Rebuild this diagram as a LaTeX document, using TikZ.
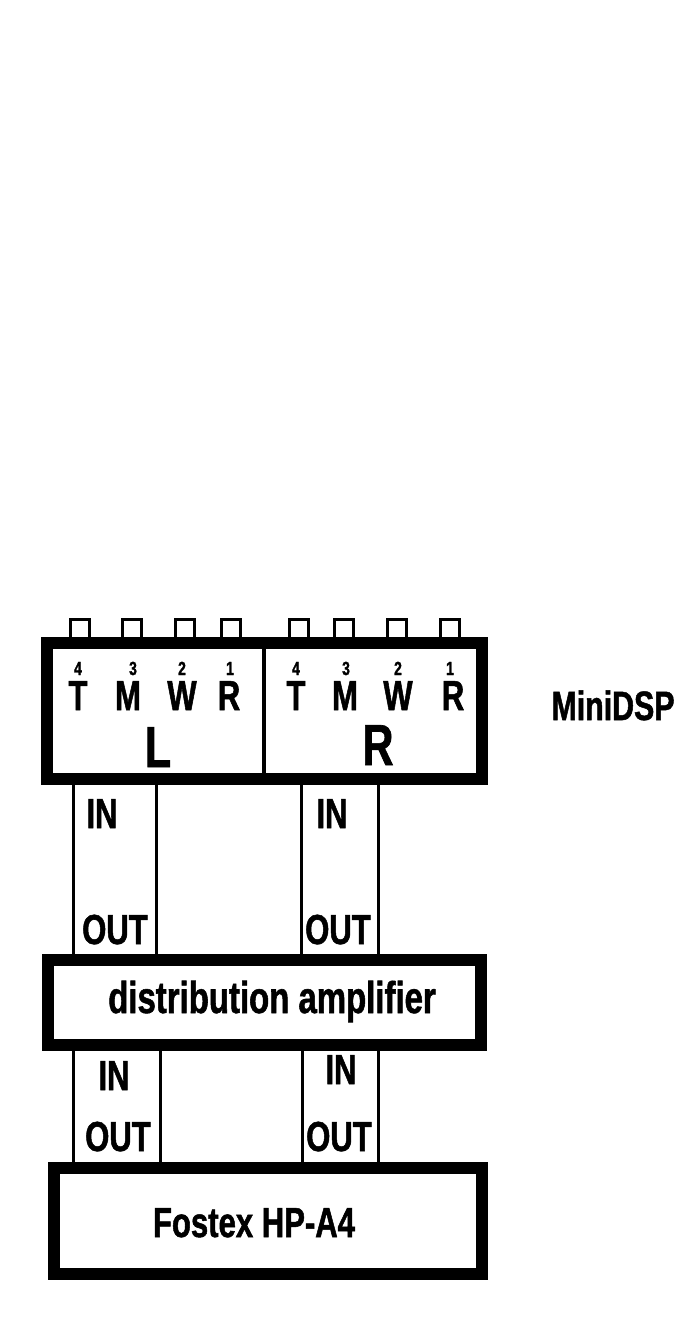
\documentclass[tikz,border=0pt]{standalone}
\usepackage{fontspec}
\usetikzlibrary{calc}
\setmainfont{Liberation Sans}[FakeStretch=0.74, BoldFeatures={FakeBold=1.2}]
\begin{document}
\begin{tikzpicture}[x=1pt,y=-1pt,
  box/.style={draw=black, fill=white, line width=12pt, rectangle, inner sep=0pt},
  wire/.style={line width=3pt},
  pin/.style={line width=3pt},
  txt/.style={inner sep=0pt, anchor=base, font=\bfseries\fontsize{42}{44}\selectfont},
  num/.style={inner sep=0pt, anchor=base, font=\bfseries\fontsize{19}{20}\selectfont},
  big/.style={inner sep=0pt, anchor=base, font=\bfseries\fontsize{58}{60}\selectfont},
]
\useasboundingbox (0,0) rectangle (677,1325);

% wire x positions
\coordinate (w1) at (73,0);
\coordinate (w2) at (156,0);
\coordinate (w3) at (301,0);
\coordinate (w4) at (378,0);
\coordinate (v1) at (73,0);
\coordinate (v2) at (160,0);
\coordinate (v3) at (302,0);
\coordinate (v4) at (378,0);

% pins on top of the MiniDSP
\foreach \px [count=\i] in {80,132,185,231,299,344,397,450}{
  \coordinate (p\i) at (\px,643);
  \draw[pin] ($(p\i)+(-9.5,0)$) rectangle ($(p\i)+(9.5,-23.5)$);
}

% boxes
\node[box, minimum width=434.5pt, minimum height=136pt] (dsp) at (264.25,711) {};
\node[box, minimum width=433.5pt, minimum height=84.5pt] (dist) at (264.25,1002.25) {};
\node[box, minimum width=428pt, minimum height=106pt] (fos) at (267.5,1220.5) {};

% divider
\coordinate (dv) at (264,0);
\draw[line width=3.5pt] (dsp.north -| dv) -- (dsp.south -| dv);

% wires
\foreach \w in {w1,w2,w3,w4}{
  \draw[wire] (dsp.south -| \w) -- (dist.north -| \w);
}
\foreach \w in {v1,v2,v3,v4}{
  \draw[wire] (dist.south -| \w) -- (fos.north -| \w);
}

% channel labels
\node[num] (n1) at (78,675) {4};
\node[num] (n2) at (133,675) {3};
\node[num] (n3) at (182,675) {2};
\node[num] (n4) at (230,675) {1};
\node[num] (n5) at (296,675) {4};
\node[num] (n6) at (346,675) {3};
\node[num] (n7) at (398,675) {2};
\node[num] (n8) at (450,675) {1};

\node[txt] (t1) at (78,710) {T};
\node[txt] (t2) at (128,710) {M};
\node[txt] (t3) at (182,710) {W};
\node[txt] (t4) at (229,710) {R};
\node[txt] (t5) at (296,710) {T};
\node[txt] (t6) at (345,710) {M};
\node[txt] (t7) at (398,710) {W};
\node[txt] (t8) at (453,710) {R};

\node[big] (bl) at (158,767) {L};
\node[big] (br) at (378,765) {R};

\node[txt, font=\bfseries\fontsize{41}{42}\selectfont] (mini) at (613,720) {MiniDSP};

% IN / OUT upper
\node[txt] (in1) at (102,828) {IN};
\node[txt] (out1) at (115,944) {OUT};
\node[txt] (in2) at (332,828) {IN};
\node[txt] (out2) at (338,944) {OUT};

% IN / OUT lower
\node[txt] (in3) at (114,1090) {IN};
\node[txt] (out3) at (118,1151) {OUT};
\node[txt] (in4) at (341,1084) {IN};
\node[txt] (out4) at (339,1151) {OUT};

\node[txt, font=\bfseries\fontsize{44.5}{46}\selectfont] (distl) at (272,1013) {distribution amplifier};
\node[txt] (fosl) at (254,1237) {Fostex HP-A4};
\end{tikzpicture}
\end{document}
